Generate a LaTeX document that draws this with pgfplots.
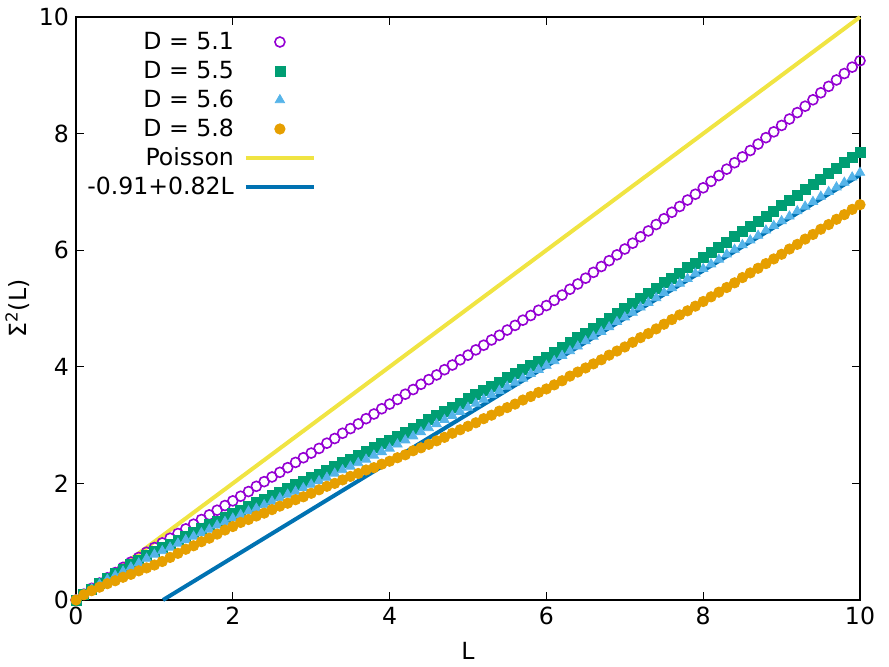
\documentclass[border=0pt]{standalone}
\usepackage{fontspec}
\setmainfont{DejaVu Sans}
\usepackage{pgfplots}
\usepackage{pgfplotstable}
\pgfplotsset{compat=1.18}
\definecolor{cviolet}{HTML}{9400D3}
\definecolor{cgreen}{HTML}{009E73}
\definecolor{clblue}{HTML}{56B4E9}
\definecolor{corange}{HTML}{E69F00}
\definecolor{cyellow}{HTML}{F0E442}
\definecolor{cblue}{HTML}{0072B2}
\pgfplotstableread{
L P G T O
0.0 0 0 0 0
0.1 0.10 0.10 0.10 0.09
0.2 0.20 0.19 0.19 0.16
0.3 0.29 0.28 0.27 0.22
0.4 0.38 0.37 0.35 0.28
0.5 0.47 0.45 0.42 0.33
0.6 0.56 0.53 0.49 0.39
0.7 0.65 0.61 0.56 0.44
0.8 0.73 0.68 0.63 0.50
0.9 0.82 0.76 0.71 0.55
1.0 0.90 0.83 0.78 0.60
1.1 0.98 0.90 0.84 0.66
1.2 1.06 0.96 0.90 0.73
1.3 1.14 1.03 0.97 0.80
1.4 1.22 1.09 1.03 0.87
1.5 1.30 1.16 1.09 0.93
1.6 1.38 1.22 1.15 1.00
1.7 1.46 1.29 1.21 1.06
1.8 1.54 1.35 1.28 1.13
1.9 1.62 1.42 1.34 1.20
2.0 1.70 1.48 1.40 1.26
2.1 1.78 1.54 1.46 1.33
2.2 1.86 1.60 1.52 1.38
2.3 1.95 1.67 1.57 1.44
2.4 2.03 1.73 1.63 1.49
2.5 2.11 1.79 1.69 1.55
2.6 2.19 1.85 1.75 1.61
2.7 2.27 1.91 1.81 1.66
2.8 2.36 1.98 1.86 1.72
2.9 2.44 2.04 1.92 1.77
3.0 2.52 2.10 1.98 1.83
3.1 2.60 2.16 2.04 1.89
3.2 2.69 2.23 2.10 1.95
3.3 2.77 2.29 2.17 2.00
3.4 2.86 2.36 2.23 2.06
3.5 2.94 2.42 2.29 2.12
3.6 3.02 2.48 2.35 2.17
3.7 3.11 2.55 2.41 2.23
3.8 3.19 2.61 2.48 2.27
3.9 3.28 2.68 2.54 2.33
4.0 3.36 2.74 2.60 2.38
4.1 3.44 2.81 2.67 2.44
4.2 3.53 2.88 2.74 2.49
4.3 3.61 2.95 2.81 2.56
4.4 3.70 3.02 2.88 2.61
4.5 3.78 3.10 2.95 2.67
4.6 3.86 3.17 3.02 2.73
4.7 3.95 3.24 3.09 2.79
4.8 4.03 3.31 3.16 2.86
4.9 4.12 3.38 3.23 2.92
5.0 4.20 3.45 3.30 2.98
5.1 4.29 3.52 3.37 3.04
5.2 4.37 3.59 3.44 3.11
5.3 4.46 3.66 3.52 3.17
5.4 4.54 3.73 3.59 3.24
5.5 4.63 3.81 3.66 3.30
5.6 4.71 3.88 3.73 3.36
5.7 4.80 3.95 3.80 3.43
5.8 4.88 4.02 3.88 3.49
5.9 4.97 4.09 3.95 3.56
6.0 5.05 4.16 4.02 3.62
6.1 5.14 4.24 4.10 3.69
6.2 5.23 4.33 4.19 3.76
6.3 5.33 4.41 4.27 3.84
6.4 5.42 4.50 4.35 3.91
6.5 5.52 4.58 4.44 3.98
6.6 5.62 4.66 4.52 4.05
6.7 5.72 4.75 4.60 4.12
6.8 5.82 4.83 4.68 4.20
6.9 5.92 4.92 4.77 4.27
7.0 6.02 5.00 4.85 4.34
7.1 6.12 5.09 4.93 4.42
7.2 6.23 5.17 5.02 4.50
7.3 6.33 5.26 5.10 4.57
7.4 6.44 5.35 5.18 4.65
7.5 6.54 5.44 5.27 4.73
7.6 6.65 5.52 5.35 4.81
7.7 6.75 5.61 5.43 4.89
7.8 6.86 5.70 5.51 4.96
7.9 6.96 5.78 5.60 5.04
8.0 7.07 5.87 5.68 5.12
8.1 7.18 5.96 5.76 5.20
8.2 7.28 6.05 5.84 5.28
8.3 7.39 6.14 5.93 5.36
8.4 7.50 6.23 6.01 5.44
8.5 7.60 6.32 6.09 5.53
8.6 7.71 6.40 6.17 5.61
8.7 7.82 6.49 6.25 5.69
8.8 7.93 6.58 6.34 5.77
8.9 8.03 6.67 6.42 5.85
9.0 8.14 6.76 6.50 5.93
9.1 8.25 6.85 6.58 6.02
9.2 8.36 6.94 6.67 6.10
9.3 8.47 7.04 6.75 6.19
9.4 8.58 7.13 6.83 6.27
9.5 8.70 7.22 6.92 6.36
9.6 8.81 7.31 7.00 6.44
9.7 8.92 7.40 7.08 6.53
9.8 9.03 7.50 7.16 6.61
9.9 9.14 7.59 7.25 6.70
10.0 9.25 7.68 7.33 6.78
}\datatable
\begin{document}
\begin{tikzpicture}[font=\fontsize{11.8}{14}\selectfont]
\useasboundingbox (-38pt,-33.5pt) rectangle (406.5pt,300pt);
\begin{axis}[
  at={(0,0)}, anchor=south west,
  scale only axis,
  width=392pt, height=291.5pt,
  xmin=0, xmax=10, ymin=0, ymax=10,
  xtick={0,2,4,6,8,10}, ytick={0,2,4,6,8,10},
  tick align=inside,
  major tick length=4pt,
  axis line style={line width=0.6pt},
  tick style={line width=0.6pt, black},
  /pgf/number format/assume math mode=true,
  tick label style={font=\fontsize{11.8}{14}\selectfont},
  clip=false,
  every axis x label/.style={at={(axis description cs:0.5,0)}, yshift=-25.5pt, anchor=center},
  every axis y label/.style={at={(axis description cs:0,0.5)}, xshift=-29.3pt, rotate=90, anchor=center},
  xlabel={L},
  ylabel={Σ\textsuperscript{2}(L)},
  legend cell align=right,
  legend plot pos=right,
  legend image code/.code={\draw[mark repeat=2,mark phase=2,#1] plot coordinates {(0pt,0pt)(17pt,0pt)(34pt,0pt)};},
  legend style={draw=none, fill=none, at={(rel axis cs:0.306,0.982)}, anchor=north east,
    inner sep=0pt, outer sep=0pt, column sep=5pt, row sep=0pt,
    font=\fontsize{11.8}{14}\selectfont,
    nodes={inner sep=0pt, minimum height=14.5pt}},
]
\addplot[only marks, mark=o, mark size=2.5pt, draw=cviolet, mark options={line width=0.8pt}] table[x=L,y=P] {\datatable};
\addlegendentry{D = 5.1}
\addplot[only marks, mark=square*, mark size=2.5pt, color=cgreen] table[x=L,y=G] {\datatable};
\addlegendentry{D = 5.5}
\addplot[only marks, mark=triangle*, mark size=2.7pt, color=clblue] table[x=L,y=T] {\datatable};
\addlegendentry{D = 5.6}
\addplot[only marks, mark=*, mark size=2.6pt, color=corange] table[x=L,y=O] {\datatable};
\addlegendentry{D = 5.8}
\addplot[no marks, cyellow, line width=2pt] coordinates {(0,0) (10,10)};
\addlegendentry{Poisson}
\addplot[no marks, cblue, line width=2pt] coordinates {(1.1098,0) (10,7.29)};
\addlegendentry{-0.91+0.82L}
\end{axis}
\end{tikzpicture}
\end{document}
